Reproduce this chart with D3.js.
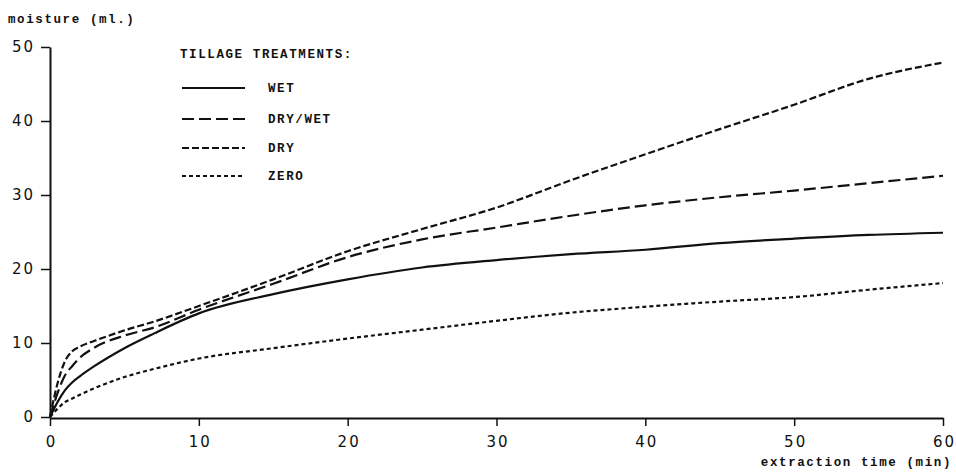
<!DOCTYPE html>
<html><head><meta charset="utf-8">
<script src="https://cdn.jsdelivr.net/npm/d3@7"></script>
<style>
html,body{margin:0;padding:0;background:#fff;}
svg{display:block;}
.mono{font-family:"Liberation Mono","DejaVu Sans Mono",monospace;font-weight:bold;font-size:12.5px;letter-spacing:1.6px;fill:#111;}
.tick text{font-family:"DejaVu Sans",sans-serif;font-size:15px;letter-spacing:2px;fill:#111;}
</style></head>
<body>
<svg id="chart" width="956" height="472"></svg>
<script>
const times = [0,0.5,1,1.5,2,3,5,7,10,15,20,25,30,35,40,45,50,55,60];
const wetValues    = [0,2.0,3.6,4.7,5.5,6.9,9.3,11.3,14.0,16.6,18.6,20.2,21.2,22.0,22.6,23.5,24.1,24.6,24.9];
const dryWetValues = [0,3.2,5.6,6.9,8.0,9.4,11.0,12.1,14.5,18.0,21.6,24.0,25.6,27.2,28.6,29.7,30.6,31.6,32.6];
const dryValues    = [0,4.5,7.5,8.9,9.5,10.3,11.7,12.9,15.0,18.6,22.4,25.4,28.3,32.0,35.5,38.9,42.2,45.7,47.9];
const zeroValues   = [0,1.1,2.0,2.5,3.0,3.9,5.4,6.5,7.9,9.3,10.6,11.8,13.0,14.1,14.9,15.6,16.2,17.2,18.1];
const seriesNames = ["WET","DRY/WET","DRY","ZERO"];
const xTicks = [0,10,20,30,40,50,60];
const yTicks = [0,10,20,30,40,50];

const dashes = {"WET":null,"DRY/WET":"12,5","DRY":"7,3","ZERO":"4,3"};
const seriesValues = {"WET":wetValues,"DRY/WET":dryWetValues,"DRY":dryValues,"ZERO":zeroValues};

const svg = d3.select("#chart");
const x = d3.scaleLinear().domain([0,60]).range([50,943]);
const y = d3.scaleLinear().domain([0,50]).range([417,47]);

// axes
const xAxis = svg.append("g").attr("transform","translate(0,418)")
  .call(d3.axisBottom(x).tickValues(xTicks).tickSize(8).tickPadding(10).tickSizeOuter(0));
const yAxis = svg.append("g").attr("transform","translate(50,0)")
  .call(d3.axisLeft(y).tickValues(yTicks).tickSize(9).tickPadding(6).tickSizeOuter(0));
[xAxis,yAxis].forEach(a=>{
  a.select(".domain").attr("stroke","#111").attr("stroke-width",2);
  a.selectAll(".tick line").attr("stroke","#111").attr("stroke-width",1.5);
});
xAxis.selectAll(".tick text").attr("dx","1px");

// lines
const line = d3.line().x(d=>x(d[0])).y(d=>y(d[1])).curve(d3.curveMonotoneX);
seriesNames.forEach(name=>{
  const pts = times.map((t,i)=>[t,seriesValues[name][i]]);
  svg.append("path").datum(pts).attr("d",line)
    .attr("fill","none").attr("stroke","#111").attr("stroke-width",2.2)
    .attr("stroke-dasharray",dashes[name]);
});

// axis titles
svg.append("text").attr("class","mono").attr("x",8).attr("y",23).text("moisture (ml.)");
svg.append("text").attr("class","mono").attr("x",952).attr("y",466).attr("text-anchor","end").text("extraction time (min)");

// legend
svg.append("text").attr("class","mono").attr("x",180).attr("y",58).text("TILLAGE TREATMENTS:");
const legY = [88,119,148,176];
seriesNames.forEach((name,i)=>{
  svg.append("line").attr("x1",182).attr("x2",245).attr("y1",legY[i]).attr("y2",legY[i])
    .attr("stroke","#111").attr("stroke-width",2.2).attr("stroke-dasharray",dashes[name]);
  svg.append("text").attr("class","mono").attr("x",268).attr("y",legY[i]+4).text(name);
});
</script>
</body></html>
